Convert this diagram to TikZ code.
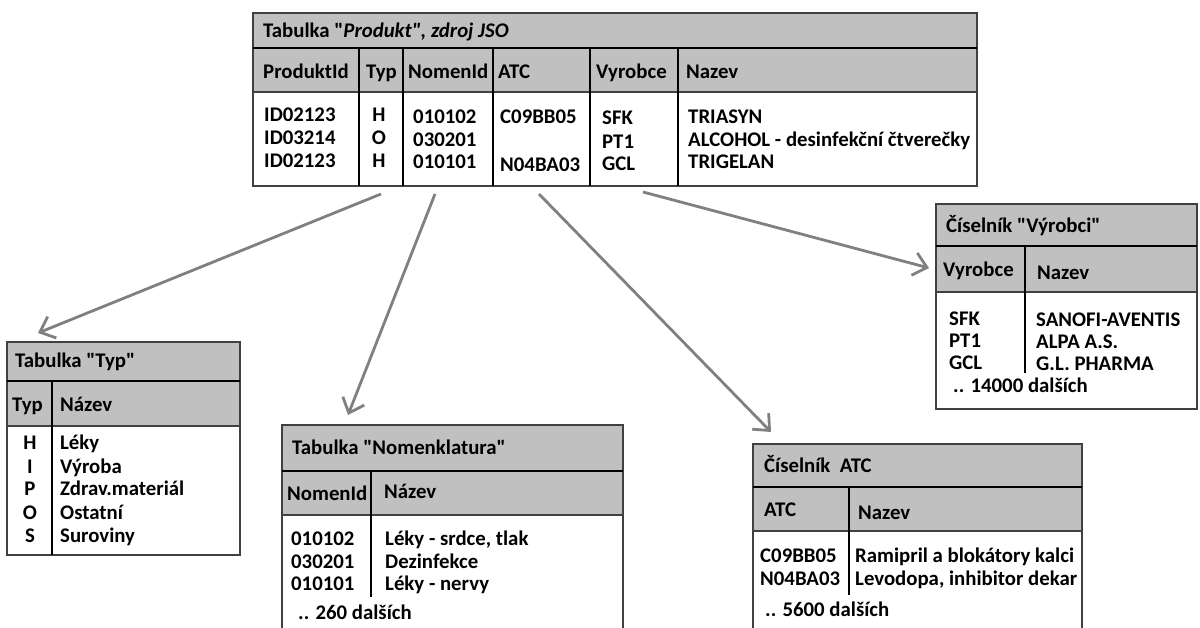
\documentclass[tikz,border=0pt]{standalone}
\usepackage{fontspec}
\newfontfamily\tabfont{Carlito}
\usetikzlibrary{arrows}
\usetikzlibrary{arrows.meta}
\usetikzlibrary{positioning}

\definecolor{headgray}{RGB}{192,192,192}
\definecolor{rulegray}{RGB}{64,64,64}
\definecolor{linkgray}{RGB}{128,128,128}

\begin{document}
\begin{tikzpicture}[x=1pt,y=-1pt,
    tab/.style={draw=rulegray,line width=1.4pt},
    head/.style={tab,fill=headgray},
    rule/.style={draw=black,line width=1.1pt},
    txt/.style={anchor=west,inner sep=0pt,text height=13.4pt,text depth=0pt,
      font=\tabfont\bfseries\fontsize{20.8}{22}\selectfont},
    ctxt/.style={txt,anchor=center},
    link/.style={draw=linkgray,line width=2.8pt,-{Straight Barb[length=13pt,width=23pt]}}]
  \useasboundingbox (0,0) rectangle (1200,628);

  % table Produkt
  \filldraw[head] (253,13) rectangle (977,92);
  \draw[rule] (253,48) -- (977,48);
  \draw[tab] (253,92) rectangle (977,186);
  \foreach \x in {359,403,493,590,678} \draw[rule] (\x,48) -- (\x,186);
  \node[txt] (ptitle) at (263,31) {Tabulka "\textit{Produkt", zdroj JSO}};
  \foreach \x/\t [count=\i] in {263/ProduktId,366/Typ,408/NomenId,498/ATC,596/Vyrobce,686/Nazev}
    \node[txt] (phead\i) at (\x,72) {\t};
  \foreach \t/\y [count=\i] in {ID02123/115,ID03214/138,ID02123/161}
    \node[txt] (pid\i) at (264,\y) {\t};
  \foreach \t/\y [count=\i] in {H/115,O/138,H/161}
    \node[ctxt] (ptyp\i) at (379,\y) {\t};
  \foreach \t/\y [count=\i] in {010102/117,030201/140,010101/162}
    \node[txt] (pnom\i) at (413,\y) {\t};
  \node[txt] (patc1) at (500,117) {C09BB05};
  \node[txt] (patc2) at (500,165) {N04BA03};
  \foreach \t/\y [count=\i] in {SFK/118,PT1/142,GCL/164}
    \node[txt] (pvyr\i) at (602,\y) {\t};
  \foreach \t/\y [count=\i] in {TRIASYN/117,ALCOHOL - desinfekční čtverečky/140,TRIGELAN/162}
    \node[txt] (pnaz\i) at (688,\y) {\t};

  % table Typ
  \filldraw[head] (7,342) rectangle (240,426);
  \draw[rule] (7,381) -- (240,381);
  \draw[tab] (7,426) rectangle (240,555);
  \draw[rule] (52,381) -- (52,555);
  \node[txt] (ttitle) at (15,361) {Tabulka "Typ"};
  \node[txt] (thead1) at (12,405) {Typ};
  \node[txt] (thead2) at (60,405) {Název};
  \foreach \k/\t/\y [count=\i] in {H/Léky/443,I/Výroba/467,P/Zdrav.materiál/489,O/Ostatní/513,S/Suroviny/536} {
    \node[ctxt] (tkey\i) at (30,\y) {\k};
    \node[txt] (tname\i) at (60,\y) {\t};
  }

  % table Nomenklatura
  \filldraw[head] (282,425) rectangle (623,515);
  \draw[rule] (282,471) -- (623,471);
  \draw[tab] (282,515) -- (282,628);
  \draw[tab] (623,515) -- (623,628);
  \draw[rule] (371,471) -- (371,597);
  \node[txt] (ntitle) at (292,448) {Tabulka "Nomenklatura"};
  \node[txt] (nhead1) at (287,494) {NomenId};
  \node[txt] (nhead2) at (384,492) {Název};
  \foreach \k/\t/\y [count=\i] in {010102/{Léky - srdce, tlak}/539,030201/Dezinfekce/562,010101/Léky - nervy/584} {
    \node[txt] (nkey\i) at (291,\y) {\k};
    \node[txt] (nname\i) at (385,\y) {\t};
  }
  \node[txt] (nmore) at (298,613) {.. 260 dalších};

  % ciselnik ATC
  \filldraw[head] (753,444) rectangle (1082,531);
  \draw[rule] (753,487) -- (1082,487);
  \draw[tab] (753,531) -- (753,628);
  \draw[tab] (1082,531) -- (1082,628);
  \draw[rule] (849,487) -- (849,595);
  \node[txt] (atitle) at (764,466) {Číselník\ \ ATC};
  \node[txt] (ahead1) at (764,510) {ATC};
  \node[txt] (ahead2) at (858,513) {Nazev};
  \node[txt] (akey1) at (760,556) {C09BB05};
  \node[txt] (akey2) at (760,579) {N04BA03};
  \begin{scope}
    \clip (849,531) rectangle (1076,600);
    \node[txt] (aname1) at (855,556) {Ramipril a blokátory kalci};
    \node[txt] (aname2) at (855,579) {Levodopa, inhibitor dekar};
  \end{scope}
  \node[txt] (amore) at (765,610) {.. 5600 dalších};

  % ciselnik Vyrobci
  \filldraw[head] (936,204) rectangle (1197,292);
  \draw[rule] (936,246) -- (1197,246);
  \draw[tab] (936,292) rectangle (1197,409);
  \draw[rule] (1025,246) -- (1025,373);
  \node[txt] (vtitle) at (946,226) {Číselník "Výrobci"};
  \node[txt] (vhead1) at (943,270) {Vyrobce};
  \node[txt] (vhead2) at (1037,273) {Nazev};
  \foreach \k/\t/\y [count=\i] in {SFK/SANOFI-AVENTIS/319,PT1/ALPA A.S./341,GCL/G.L. PHARMA/363} {
    \node[txt] (vkey\i) at (949,\y) {\k};
    \node[txt] (vname\i) at (1036,\y+1) {\t};
  }
  \node[txt] (vmore) at (953,386) {.. 14000 dalších};

  % links
  \coordinate (typfrom) at (381,194);
  \coordinate (typto) at (38,333);
  \coordinate (nomfrom) at (435,194);
  \coordinate (nomto) at (348,415);
  \coordinate (atcfrom) at (539,194);
  \coordinate (atcto) at (771,432);
  \coordinate (vyrfrom) at (643,192);
  \coordinate (vyrto) at (929,268);
  \draw[link] (typfrom) -- (typto);
  \draw[link] (nomfrom) -- (nomto);
  \draw[link] (atcfrom) -- (atcto);
  \draw[link] (vyrfrom) -- (vyrto);
\end{tikzpicture}
\end{document}
